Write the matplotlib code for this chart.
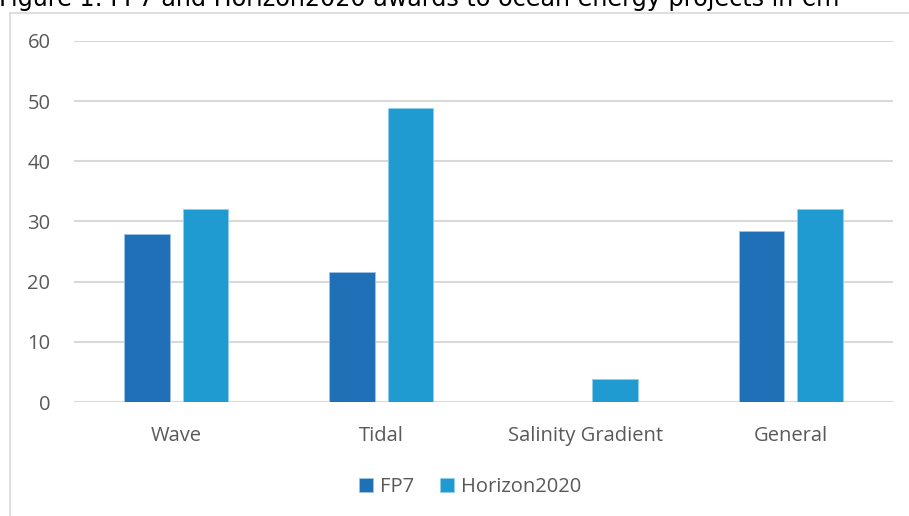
import matplotlib
matplotlib.use("Agg")
import matplotlib.pyplot as plt
from matplotlib.lines import Line2D
import numpy as np

# data (EUR m)
categories = ["Wave", "Tidal", "Salinity Gradient", "General"]
fp7 = [27.9, 21.6, 0, 28.4]
horizon2020 = [32.1, 48.9, 3.9, 32.0]
series_names = ["FP7", "Horizon2020"]
title = "Figure 1: FP7 and Horizon2020 awards to ocean energy projects in \u20acm"

# styling
fp7_colour = "#2070B8"
h2020_colour = "#1F9BD2"
grid_colour = "#D9D9D9"
text_colour = "#595959"
tick_font = ["Open Sans", "DejaVu Sans"]

W, H = 909, 516
fig = plt.figure(figsize=(W / 100, H / 100), dpi=100)
ax = fig.add_axes([74 / W, 114 / H, (893 - 74) / W, (402 - 41) / H])

x = np.arange(len(categories))
bar_w = 0.223
off = 0.143
ax.bar(x - off, fp7, bar_w, color=fp7_colour, edgecolor="#9DC3E6", linewidth=0.6,
       label=series_names[0], zorder=3)
ax.bar(x + off, horizon2020, bar_w, color=h2020_colour, edgecolor="#8FD0EE", linewidth=0.6,
       label=series_names[1], zorder=3)

ax.set_xlim(-0.5, len(categories) - 0.5)
ax.set_ylim(0, 60)
ax.set_yticks(range(0, 61, 10))
ax.yaxis.grid(True, color=grid_colour, linewidth=1.5, zorder=0)
ax.set_axisbelow(True)
for s in ax.spines.values():
    s.set_visible(False)
ax.tick_params(axis="both", length=0, colors=text_colour, labelsize=14.5)
ax.tick_params(axis="y", pad=17)
ax.tick_params(axis="x", pad=17)
ax.set_xticks(x)
ax.set_xticklabels(categories)
for lab in ax.get_xticklabels() + ax.get_yticklabels():
    lab.set_family(tick_font)

leg = fig.legend(loc="center", bbox_to_anchor=(470 / W, 1 - 487 / H), ncol=2, frameon=False,
                 handlelength=0.7, handleheight=0.7, handletextpad=0.35, columnspacing=1.3,
                 prop={"family": tick_font, "size": 14.5})
for t in leg.get_texts():
    t.set_color(text_colour)

# chart border (only top and left edges visible in the crop)
fig.add_artist(Line2D([10 / W, 10 / W], [0, 1 - 12.5 / H], color=grid_colour, linewidth=1.2))
fig.add_artist(Line2D([10 / W, 1], [1 - 12.5 / H, 1 - 12.5 / H], color=grid_colour, linewidth=1.2))

# title, clipped at the top of the image like the source; scale font so it spans ~840 px
ttl = fig.text(-1 / W, 1 - 6 / H, title, ha="left", va="baseline", fontsize=20,
               family=["Liberation Sans Narrow", "DejaVu Sans"], color="#000000")
fig.canvas.draw()
tw = ttl.get_window_extent().width
ttl.set_fontsize(20 * 841 / tw)

fig.savefig("out.png", dpi=100)
